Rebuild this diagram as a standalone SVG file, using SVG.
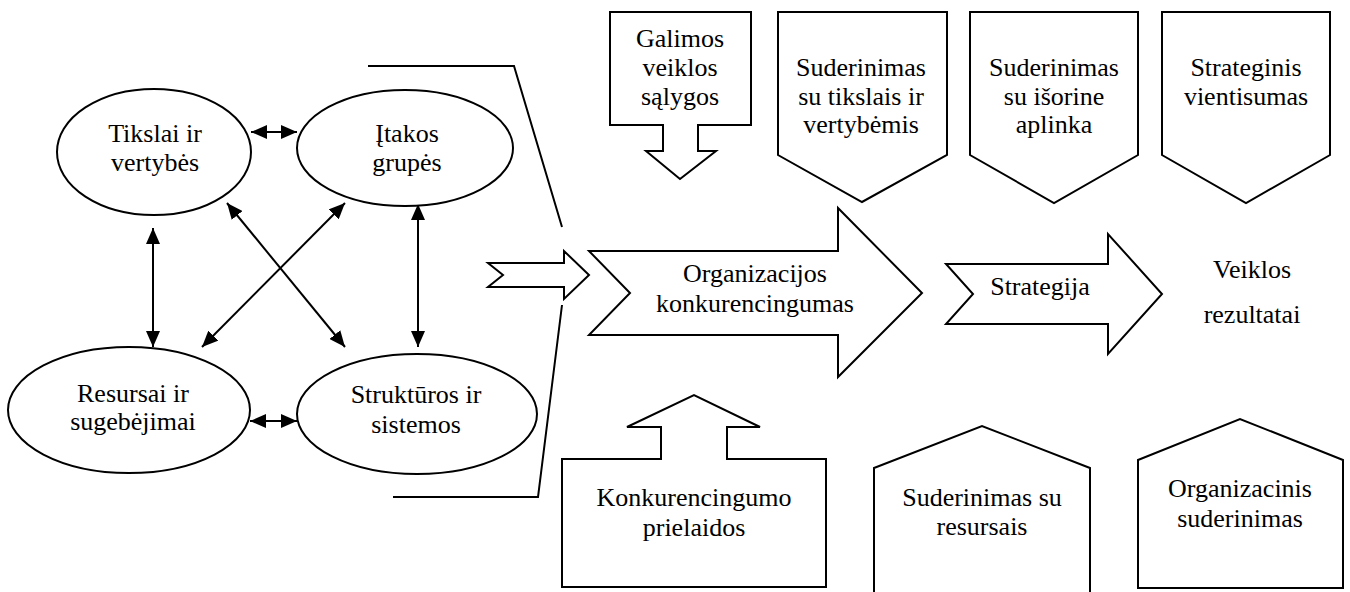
<svg xmlns="http://www.w3.org/2000/svg" width="1350" height="592" viewBox="0 0 1350 592">
  <style>
    .shape { fill: #ffffff; stroke: #000000; stroke-width: 2; stroke-linejoin: miter; }
    .line { fill: none; stroke: #000000; stroke-width: 2; }
    .conn { fill: none; stroke: #000000; stroke-width: 2; marker-start: url(#head); marker-end: url(#head); }
    .lbl { font-family: 'Liberation Serif', 'Times New Roman', serif; font-size: 26px; fill: #000000; text-anchor: middle; }
  </style>
  <defs>
    <marker id="head" viewBox="0 0 16 14" refX="16" refY="7" markerWidth="16" markerHeight="14" markerUnits="userSpaceOnUse" orient="auto-start-reverse">
      <path d="M0,0 L16,7 L0,14 Z" fill="#000000"/>
    </marker>
  </defs>

  <rect width="1350" height="592" fill="#ffffff"/>

  <!-- two-way links between the four ellipses -->
  <g id="connectors">
    <line class="conn" x1="251" y1="132" x2="297" y2="132"/>
    <line class="conn" x1="250" y1="421" x2="297" y2="421"/>
    <line class="conn" x1="153" y1="228" x2="153" y2="347"/>
    <line class="conn" x1="418" y1="204" x2="418" y2="347"/>
    <line class="conn" x1="227" y1="203" x2="345" y2="347"/>
    <line class="conn" x1="345" y1="203" x2="202" y2="347"/>
  </g>

  <!-- ellipses -->
  <g id="tikslai">
    <ellipse class="shape" cx="154" cy="152" rx="97" ry="63"/>
    <text class="lbl" x="155" y="142">Tikslai ir</text>
    <text class="lbl" x="155" y="171">vertybės</text>
  </g>
  <g id="itakos">
    <ellipse class="shape" cx="405" cy="148" rx="108" ry="58"/>
    <text class="lbl" x="407" y="142">Įtakos</text>
    <text class="lbl" x="407" y="171">grupės</text>
  </g>
  <g id="resursai">
    <ellipse class="shape" cx="129" cy="410" rx="121" ry="63"/>
    <text class="lbl" x="133" y="402">Resursai ir</text>
    <text class="lbl" x="133" y="430">sugebėjimai</text>
  </g>
  <g id="strukturos">
    <ellipse class="shape" cx="417" cy="414" rx="120" ry="60"/>
    <text class="lbl" x="416" y="403">Struktūros ir</text>
    <text class="lbl" x="416" y="433">sistemos</text>
  </g>

  <!-- bracket lines around the ellipse group -->
  <g id="bracket">
    <polyline class="line" points="368,66 514,66 562,227"/>
    <polyline class="line" points="393,497 538,497 562,305"/>
  </g>

  <!-- small notched arrow -->
  <g id="input-arrow">
    <path class="shape" d="M488,263 H564 V251 L589,275 L564,299 V287 H488 L503,275 Z"/>
  </g>

  <!-- main notched arrows -->
  <g id="konkurencingumas">
    <path class="shape" d="M589,251 H838 V208 L922,293 L838,377 V335 H589 L630,293 Z"/>
    <text class="lbl" x="755" y="282">Organizacijos</text>
    <text class="lbl" x="755" y="312">konkurencingumas</text>
  </g>
  <g id="strategija">
    <path class="shape" d="M946,264 H1108 V234 L1162,294 L1108,354 V324 H946 L973,294 Z"/>
    <text class="lbl" x="1040" y="295">Strategija</text>
  </g>
  <g id="rezultatai">
    <text class="lbl" x="1252" y="278">Veiklos</text>
    <text class="lbl" x="1252" y="323">rezultatai</text>
  </g>

  <!-- top callouts -->
  <g id="galimos">
    <path class="shape" d="M610,12 H751 V125 H698 V151 H716 L680,179 L646,151 H663 V125 H610 Z"/>
    <text class="lbl" x="680" y="47">Galimos</text>
    <text class="lbl" x="680" y="76">veiklos</text>
    <text class="lbl" x="680" y="105">sąlygos</text>
  </g>
  <g id="suderinimas-tikslai">
    <path class="shape" d="M778,12 H947 V155 L862,202 L778,155 Z"/>
    <text class="lbl" x="861" y="76">Suderinimas</text>
    <text class="lbl" x="861" y="105">su tikslais ir</text>
    <text class="lbl" x="861" y="133">vertybėmis</text>
  </g>
  <g id="suderinimas-aplinka">
    <path class="shape" d="M970,12 H1138 V155 L1054,203 L970,155 Z"/>
    <text class="lbl" x="1054" y="76">Suderinimas</text>
    <text class="lbl" x="1054" y="105">su išorine</text>
    <text class="lbl" x="1054" y="133">aplinka</text>
  </g>
  <g id="vientisumas">
    <path class="shape" d="M1162,12 H1330 V155 L1246,203 L1162,155 Z"/>
    <text class="lbl" x="1246" y="76">Strateginis</text>
    <text class="lbl" x="1246" y="105">vientisumas</text>
  </g>

  <!-- bottom callouts -->
  <g id="prielaidos">
    <path class="shape" d="M562,587 V459 H661 V427 H627 L694,395 L760,427 H727 V459 H826 V587 Z"/>
    <text class="lbl" x="694" y="506">Konkurencingumo</text>
    <text class="lbl" x="694" y="536">prielaidos</text>
  </g>
  <g id="suderinimas-resursai">
    <path class="shape" d="M874,600 V468 L982,426 L1090,468 V600 Z"/>
    <text class="lbl" x="982" y="506">Suderinimas su</text>
    <text class="lbl" x="982" y="535">resursais</text>
  </g>
  <g id="organizacinis">
    <path class="shape" d="M1138,588 V460 L1240,419 L1343,460 V588 Z"/>
    <text class="lbl" x="1240" y="497">Organizacinis</text>
    <text class="lbl" x="1240" y="527">suderinimas</text>
  </g>
</svg>
